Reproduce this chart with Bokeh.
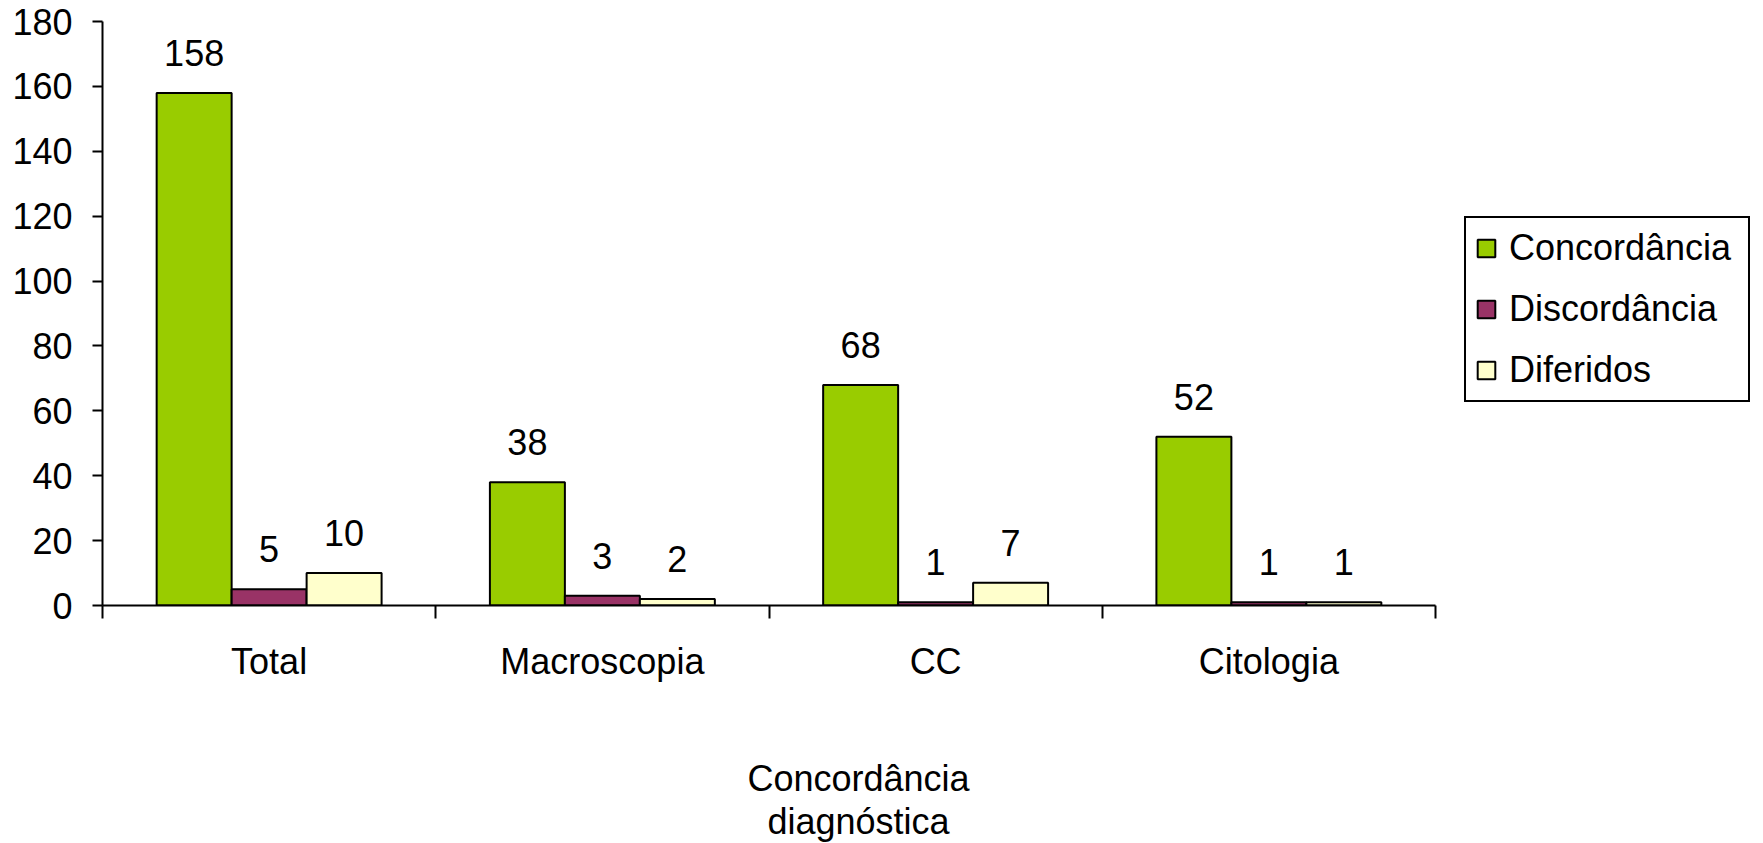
from bokeh.plotting import figure
from bokeh.models import (Range1d, FixedTicker, LinearAxis, Legend, LegendItem,
                          ColumnDataSource, Title, CustomJSTickFormatter)
from bokeh.transform import dodge
from bokeh.core.properties import value
from bokeh.embed import file_html
from bokeh.resources import INLINE

categories = ["Total", "Macroscopia", "CC", "Citologia"]
concordancia = [158, 38, 68, 52]
discordancia = [5, 3, 1, 1]
diferidos = [10, 2, 7, 1]
series_names = ["Concordância", "Discordância", "Diferidos"]
y_ticks = [0, 20, 40, 60, 80, 100, 120, 140, 160, 180]
x_title = ["Concordância", "diagnóstica"]

colors = ["#99CC00", "#993366", "#FFFFCC"]
FONT = "Liberation Sans"
FS = "36px"

W, H = 1763, 843
LEFT, RIGHT, TOP, BOTTOM = 102, 8, 21, 238
AXIS_PX = 1333      # pixel length of the category axis
frame_w = W - LEFT - RIGHT
n = len(categories)
x_end = n * frame_w / AXIS_PX

centers = [i + 0.5 for i in range(n)]
src = ColumnDataSource(dict(x=centers, c=concordancia, d=discordancia, f=diferidos,
                            cl=[str(v) for v in concordancia],
                            dl=[str(v) for v in discordancia],
                            fl=[str(v) for v in diferidos]))

p = figure(width=W, height=H, x_range=Range1d(0, x_end), y_range=Range1d(0, 180),
           output_backend="svg", toolbar_location=None,
           min_border_left=LEFT, min_border_right=RIGHT, min_border_top=TOP, min_border_bottom=BOTTOM,
           x_axis_type=None, y_axis_type=None)
p.outline_line_color = None
p.xgrid.visible = False
p.ygrid.visible = False

bw = 0.225
offsets = [-bw, 0.0, bw]
fields = ["c", "d", "f"]
lfields = ["cl", "dl", "fl"]
renderers = []
for off, fld, lf, col in zip(offsets, fields, lfields, colors):
    r = p.vbar(x=dodge("x", off, range=p.x_range), top=fld, width=bw, bottom=0, source=src,
               fill_color=col, line_color="black", line_width=2)
    renderers.append(r)
    p.text(x=dodge("x", off, range=p.x_range), y=fld, text=lf, source=src,
           text_align="center", text_baseline="alphabetic", y_offset=-40,
           text_font=value(FONT), text_font_size=FS, text_color="black")

# y axis
yaxis = LinearAxis(ticker=FixedTicker(ticks=y_ticks, minor_ticks=[]))
yaxis.axis_line_width = 2
yaxis.major_tick_line_width = 2
yaxis.major_tick_out = 10
yaxis.major_tick_in = 0
yaxis.major_label_standoff = 20
yaxis.major_label_text_font = FONT
yaxis.major_label_text_font_size = FS
yaxis.major_label_text_color = "black"
p.add_layout(yaxis, "left")

# x axis with boundary ticks
xaxis = LinearAxis(ticker=FixedTicker(ticks=list(range(n + 1)), minor_ticks=[]), bounds=(0, n))
xaxis.axis_line_width = 2
xaxis.major_tick_line_width = 2
xaxis.major_tick_out = 13
xaxis.major_tick_in = 0
xaxis.formatter = CustomJSTickFormatter(code="return ''")
xaxis.major_label_text_font_size = "1px"
xaxis.major_label_standoff = 0
p.add_layout(xaxis, "below")

# category label axis (its blank axis label only reserves space above the title)
cat_axis = LinearAxis(ticker=FixedTicker(ticks=centers, minor_ticks=[]))
cat_axis.axis_line_color = None
cat_axis.major_tick_line_color = None
cat_axis.major_tick_out = 0
cat_axis.major_tick_in = 0
cat_axis.major_label_overrides = {c: nm for c, nm in zip(centers, categories)}
cat_axis.major_label_standoff = 22
cat_axis.major_label_text_font = FONT
cat_axis.major_label_text_font_size = FS
cat_axis.major_label_text_color = "black"
cat_axis.axis_label = " "
cat_axis.axis_label_standoff = 27
cat_axis.axis_label_text_font_size = FS
p.add_layout(cat_axis, "below")

# axis title (two lines) as titles below
for txt, off in zip(x_title, [645, 665]):
    p.add_layout(Title(text=txt, align="left", offset=off, standoff=0,
                       text_font=FONT, text_font_size=FS, text_font_style="normal",
                       text_color="black"), "below")

legend = Legend(items=[LegendItem(label=nm, renderers=[r]) for nm, r in zip(series_names, renderers)],
                location=(1362, 203))
legend.border_line_color = "black"
legend.border_line_alpha = 1.0
legend.border_line_width = 2
legend.label_text_font = FONT
legend.label_text_font_size = FS
legend.label_text_color = "black"
legend.glyph_width = 22
legend.glyph_height = 22
legend.label_standoff = 12
legend.label_width = 230
legend.label_height = 40
legend.spacing = 19
legend.padding = 9
legend.margin = 0
legend.background_fill_color = "white"
p.add_layout(legend, "center")

open("out.html", "w").write(file_html(p, INLINE))
